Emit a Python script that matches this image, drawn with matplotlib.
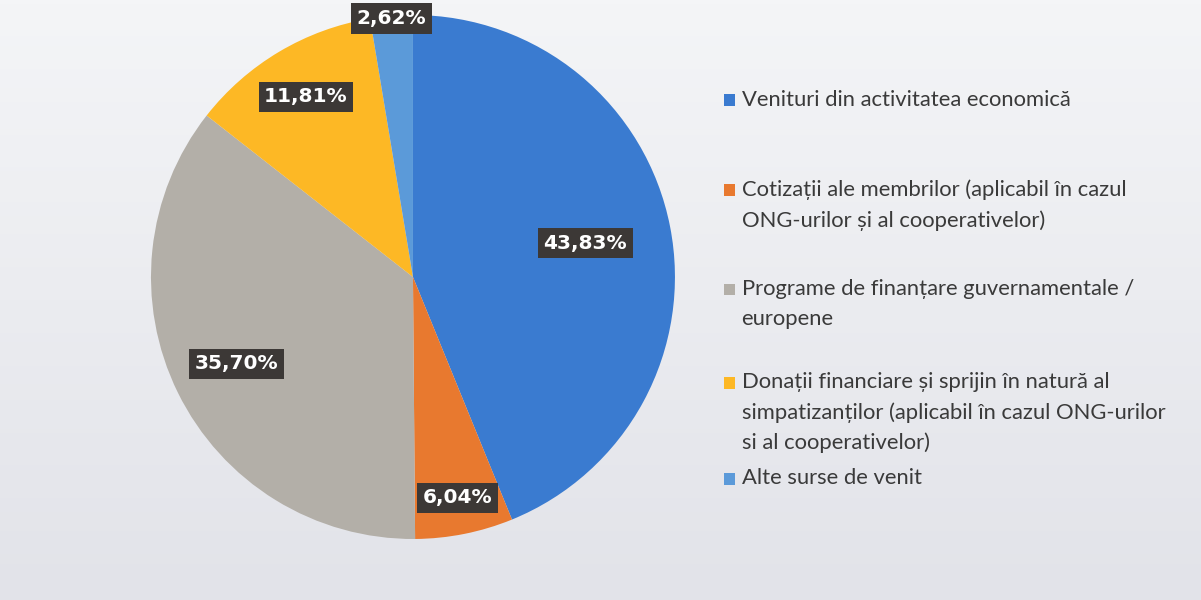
import numpy as np
import matplotlib
matplotlib.use("Agg")
import matplotlib.pyplot as plt
from matplotlib.patches import Rectangle

# date
categorii = [
    "Venituri din activitatea economică",
    "Cotizații ale membrilor (aplicabil în cazul\nONG-urilor și al cooperativelor)",
    "Programe de finanțare guvernamentale /\neuropene",
    "Donații financiare și sprijin în natură al\nsimpatizanților (aplicabil în cazul ONG-urilor\nsi al cooperativelor)",
    "Alte surse de venit",
]
procente = [43.83, 6.04, 35.70, 11.81, 2.62]
etichete = ["43,83%", "6,04%", "35,70%", "11,81%", "2,62%"]

culori = ["#3a7bd0", "#e8792f", "#b3afa8", "#fdb825", "#5b9ad9"]
dist_eticheta = [0.67, 0.86, 0.75, 0.80, 0.99]  # pozitia etichetelor (fractie din raza)
y_legenda = [0.833, 0.683, 0.517, 0.362, 0.202]  # pozitia intrarilor in legenda

fig = plt.figure(figsize=(12.01, 6.0), dpi=100)

# fundal (foto usor gri)
bg = fig.add_axes([0, 0, 1, 1])
grad = np.linspace(0, 1, 200).reshape(-1, 1)
bg.imshow(grad, aspect="auto", cmap=matplotlib.colors.LinearSegmentedColormap.from_list(
    "f", ["#f4f5f7", "#e2e3e9"]), extent=[0, 1, 0, 1], origin="upper")
bg.axis("off")

ax = fig.add_axes([0.1257, 0.1017, 0.4363, 0.8733])
wedges, _ = ax.pie(procente, colors=culori, startangle=90, counterclock=False,
                   wedgeprops=dict(linewidth=0))
ax.set_xlim(-1, 1)
ax.set_ylim(-1, 1)
ax.set_aspect("equal")

for w, txt, d in zip(wedges, etichete, dist_eticheta):
    theta = np.deg2rad((w.theta1 + w.theta2) / 2)
    ax.text(d * np.cos(theta), d * np.sin(theta), txt, ha="center", va="center",
            fontsize=14.5, fontweight="bold", color="white", family="DejaVu Sans",
            bbox=dict(boxstyle="square,pad=0.28", fc="#3c3836", ec="none"),
            clip_on=False, zorder=5)

# legenda
for cat, c, y in zip(categorii, culori, y_legenda):
    fig.patches.append(Rectangle((0.603, y - 0.0095), 0.0092, 0.019, transform=fig.transFigure,
                                 facecolor=c, edgecolor="none"))
    fig.text(0.6175, y + 0.0175, cat, ha="left", va="top", fontsize=15.8, color="#3a3a3a",
             family="Lato", linespacing=1.58, transform=fig.transFigure)

fig.savefig("out.png", dpi=100)
